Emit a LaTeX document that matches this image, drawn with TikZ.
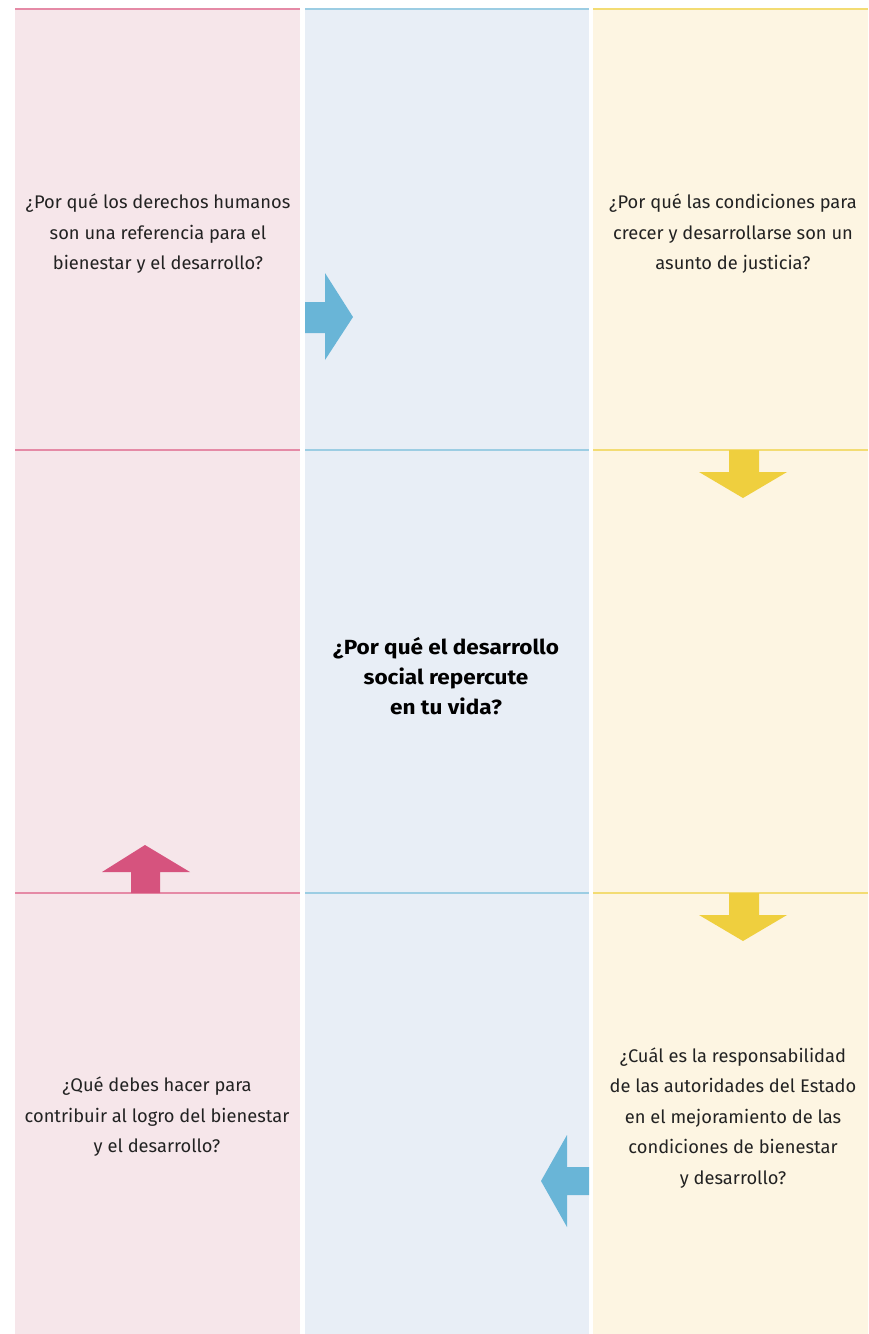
\documentclass[tikz,border=0pt]{standalone}
\usepackage{fontspec}
\setmainfont{Fira Sans}
\usepackage{tikz}

\definecolor{pinkbg}{HTML}{F6E6EA}
\definecolor{bluebg}{HTML}{E8EEF6}
\definecolor{yellowbg}{HTML}{FDF5E2}
\definecolor{pinkline}{HTML}{E58AA6}
\definecolor{blueline}{HTML}{9CCDE3}
\definecolor{yellowline}{HTML}{F3DC73}
\definecolor{pinkarrow}{HTML}{D6537E}
\definecolor{bluearrow}{HTML}{69B5D7}
\definecolor{yellowarrow}{HTML}{EFCF3E}
\definecolor{textgray}{HTML}{222222}

\tikzset{
    question/.style={align=center, text=textgray, font=\fontsize{18.3}{30.5}\selectfont},
    mainq/.style={align=center, text=black,
        font=\bfseries\fontsize{20.5}{30}\selectfont\addfontfeature{FakeStretch=1.1}}
}

\begin{document}
\begin{tikzpicture}[x=1pt, y=-1pt]
    \useasboundingbox (0,0) rectangle (868,1334);

    % columns
    \fill[pinkbg] (15,9) rectangle (300,1334);
    \fill[bluebg] (305,9) rectangle (589,1334);
    \fill[yellowbg] (593,9) rectangle (868,1334);

    % row lines
    \foreach \y in {9,450,893} {
        \draw[pinkline, line width=1.2pt] (15,\y) -- (300,\y);
        \draw[blueline, line width=1.2pt] (305,\y) -- (589,\y);
        \draw[yellowline, line width=1.2pt] (593,\y) -- (868,\y);
    }

    % questions
    \node[question] (derechos) at (158,234) {¿Por qué los derechos humanos\\son una referencia para el\\bienestar y el desarrollo?};
    \node[question] (justicia) at (733,234) {¿Por qué las condiciones para\\crecer y desarrollarse son un\\asunto de justicia?};
    \node[mainq] (vida) at (446,676) {¿Por qué el desarrollo\\social repercute\\en tu vida?};
    \node[question] (debes) at (157,1117) {¿Qué debes hacer para\\contribuir al logro del bienestar\\y el desarrollo?};
    \node[question] (estado) at (733,1118) {¿Cuál es la responsabilidad\\de las autoridades del Estado\\en el mejoramiento de las\\condiciones de bienestar\\y desarrollo?};

    % arrows
    \fill[bluearrow] (305,302) -- (325,302) -- (325,273) -- (353,317)
        -- (325,360) -- (325,333) -- (305,333) -- cycle;
    \fill[yellowarrow] (729,450) -- (759,450) -- (759,472) -- (787,472)
        -- (743,498) -- (699,472) -- (729,472) -- cycle;
    \fill[yellowarrow] (729,893) -- (759,893) -- (759,915) -- (787,915)
        -- (743,941) -- (699,915) -- (729,915) -- cycle;
    \fill[pinkarrow] (131,893) -- (160,893) -- (160,872) -- (190,872)
        -- (145,845) -- (102,872) -- (131,872) -- cycle;
    \fill[bluearrow] (589,1167) -- (567,1167) -- (567,1135) -- (541,1181)
        -- (567,1227) -- (567,1195) -- (589,1195) -- cycle;
\end{tikzpicture}
\end{document}
